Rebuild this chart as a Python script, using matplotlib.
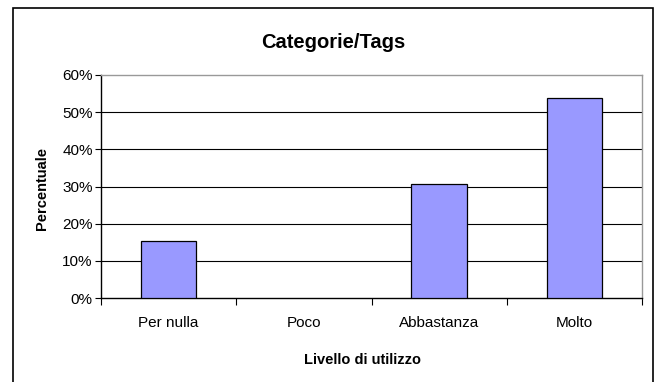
import matplotlib
matplotlib.use('Agg')
import matplotlib.pyplot as plt
from matplotlib.patches import Rectangle
from matplotlib.ticker import FuncFormatter

categories = ['Per nulla', 'Poco', 'Abbastanza', 'Molto']
values = [15.4, 0.0, 30.8, 53.8]
y_ticks = [0, 10, 20, 30, 40, 50, 60]

plt.rcParams['font.family'] = ['Liberation Sans', 'DejaVu Sans']

fig = plt.figure(figsize=(6.56, 3.82), dpi=100)
W, H = 656, 382
ax = fig.add_axes([101 / W, 1 - 298 / H, (642 - 101) / W, (298 - 75) / H])

# outer chart border
fig.patches.append(Rectangle((13 / W, -0.05), (653 - 13) / W, 1 - 8 / H + 0.05,
                             transform=fig.transFigure, fill=False,
                             edgecolor='black', linewidth=1.2))

x = list(range(len(categories)))
bars = ax.bar(x, values, width=0.41, color='#9999ff', edgecolor='black',
              linewidth=0.9, zorder=3)
# empty bars are not drawn at all
for b, v in zip(bars, values):
    if v == 0:
        b.set_visible(False)

ax.set_xlim(-0.5, len(categories) - 0.5)
ax.set_ylim(0, 60)
ax.set_yticks(y_ticks)
ax.yaxis.set_major_formatter(FuncFormatter(lambda v, p: '%d%%' % v))
ax.set_xticks(x)
ax.set_xticklabels(categories, fontsize=11)
ax.tick_params(axis='x', length=0, pad=13)
ax.set_xticks([i - 0.5 for i in range(len(categories) + 1)], minor=True)
ax.tick_params(axis='x', which='minor', length=5, width=0.8, direction='out')
ax.tick_params(axis='y', labelsize=11, length=4, width=0.8, pad=2)

for v in y_ticks[1:-1]:
    ax.axhline(v, color='black', linewidth=0.8, zorder=1)

ax.spines['left'].set_color('black')
ax.spines['bottom'].set_color('black')
ax.spines['top'].set_color('#999999')
ax.spines['right'].set_color('#999999')
for s in ax.spines.values():
    s.set_linewidth(1.0)

ax.set_ylabel('Percentuale', fontsize=10.5, fontweight='bold')
ax.yaxis.set_label_coords(42 / W, 1 - 188 / H, transform=fig.transFigure)
ax.set_xlabel('Livello di utilizzo', fontsize=10.5, fontweight='bold')
ax.xaxis.set_label_coords(362 / W, 1 - 360 / H, transform=fig.transFigure)
ax.xaxis.label.set_va('center')
ax.yaxis.label.set_va('center')
fig.text(333 / W, 1 - 42 / H, 'Categorie/Tags', ha='center', va='center',
         fontsize=14.5, fontweight='bold')

fig.savefig('out.png', dpi=100)
